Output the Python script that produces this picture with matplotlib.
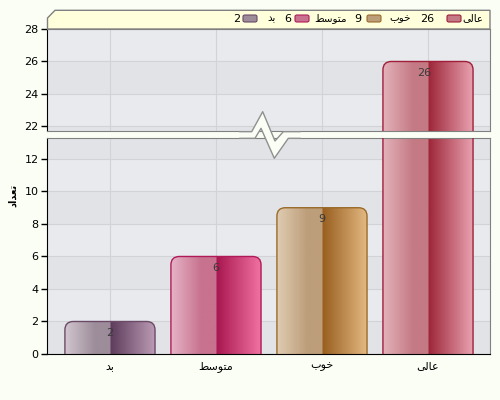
import numpy as np
import matplotlib
matplotlib.use("Agg")
import matplotlib.pyplot as plt
from matplotlib.patches import FancyBboxPatch, Polygon
from matplotlib.lines import Line2D
from matplotlib.colors import to_rgb

# ---- data ----
categories = ["بد", "متوسط", "خوب", "عالی"]
# visual (shaped, left-to-right) forms of the labels for rendering
categories_shaped = ["\uFEAA\uFE91", "\uFEC2\uFEB3\uFEEE\uFE98\uFEE3", "\uFE8F\uFEEE\uFEA7", "\uFBFD\uFEDF\uFE8E\uFECB"]
values = [2, 6, 9, 26]
ylabel_shaped = "\uFEA9\uFE8D\uFEAA\uFECC\uFE97"  # تعداد
top_ticks = [22, 24, 26, 28]
bottom_ticks = [0, 2, 4, 6, 8, 10, 12]

# gradient colours per bar: light-left, mid, dark, light-right, edge
bar_colors = [
    ("#d2c6cf", "#9d8c9a", "#5c3c5a", "#bc9cb6", "#6a4a66"),
    ("#e6b4c6", "#c8728f", "#a8164f", "#f274a3", "#b01a58"),
    ("#e0ccb2", "#bd9e7a", "#985e1e", "#e4ba84", "#9a6a28"),
    ("#e4b2ba", "#c47a84", "#9c2638", "#eaa4b2", "#a01e3a"),
]

BG = "#fbfef4"
W, H = 500, 400
fig = plt.figure(figsize=(5, 4), dpi=100, facecolor=BG)

def fx(x):
    return x / W

def fy(y):
    return 1 - y / H

L, R = 47, 490
ax_top = fig.add_axes([fx(L), fy(131), fx(R - L), (131 - 29) / H])
ax_bot = fig.add_axes([fx(L), fy(354), fx(R - L), (354 - 138) / H])

xlim = (-0.594, 3.585)
top_lim = (21.72, 28.0)
bot_lim = (0.0, 13.29)
width = 0.85


def gradient_row(c):
    l, m, d, r, _ = [np.array(to_rgb(x)) for x in c]
    n = 200
    t = np.linspace(0, 1, n)
    out = np.zeros((n, 3))
    for i, tt in enumerate(t):
        if tt < 0.33:
            f = tt / 0.33
            out[i] = l * (1 - f) + m * f
        elif tt < 0.5:
            out[i] = m
        else:
            f = (tt - 0.5) / 0.5
            out[i] = d * (1 - f) + r * f
    return np.tile(out[None, :, :], (8, 1, 1))


for ax, lim, ticks in [(ax_top, top_lim, top_ticks), (ax_bot, bot_lim, bottom_ticks)]:
    ax.set_facecolor("#e8eaee")
    for b in range(0, 30, 4):
        ax.axhspan(b, b + 2, color="#e2e3e7", zorder=0, lw=0)
    for t in ticks:
        ax.axhline(t, color="#d2d3d7", lw=0.8, zorder=0.5)
    for i in range(len(categories)):
        ax.axvline(i, color="#d2d3d7", lw=0.8, zorder=0.5)
    for i, (v, c) in enumerate(zip(values, bar_colors)):
        x0 = i - width / 2
        patch = FancyBboxPatch((x0, -1.5), width, v + 1.5,
                               boxstyle="round,pad=0,rounding_size=0.08",
                               mutation_aspect=6.5,
                               facecolor="none", edgecolor=c[4], lw=1.0, zorder=3)
        ax.add_patch(patch)
        im = ax.imshow(gradient_row(c), extent=[x0, x0 + width, -1.5, v],
                       aspect="auto", interpolation="bilinear", zorder=2)
        im.set_clip_path(patch)
        if lim[0] <= v - 0.7 <= lim[1]:
            ax.text(i + 0.03, v - 0.7, str(v), ha="right", va="center",
                    fontsize=8, color="#3a3a3a", zorder=4)
    ax.set_xlim(*xlim)
    ax.set_ylim(*lim)
    ax.set_yticks(ticks)
    ax.tick_params(axis="y", labelsize=8, length=4, width=1, color="black", pad=2)
    for s in ["top", "right"]:
        ax.spines[s].set_color("#808080")
    ax.spines["left"].set_color("black")
    ax.spines["bottom"].set_color("black")

ax_top.set_xticks([])
ax_top.spines["bottom"].set_color("#808080")
ax_bot.spines["top"].set_color("#808080")
ax_bot.set_xticks(range(len(categories)))
ax_bot.set_xticklabels(categories_shaped, fontsize=8)
ax_bot.tick_params(axis="x", length=0, pad=5)

fig.text(fx(13), fy(195), ylabel_shaped, rotation=90, fontsize=7,
         fontweight="bold", ha="center", va="center")

# break marker
upper = [(240, 131.7), (251.7, 131.7), (262.7, 111.7), (275, 141), (283.3, 131.7), (300, 131.7)]
lower = [(300, 138.3), (288.3, 138.3), (274.3, 158.3), (261, 128.3), (255, 138.3), (240, 138.3)]
poly = Polygon([(fx(x), fy(y)) for x, y in upper + lower], closed=True,
               transform=fig.transFigure, facecolor=BG, edgecolor="none", zorder=10)
fig.patches.append(poly)
for pts in (upper, lower):
    fig.lines.append(Line2D([fx(x) for x, y in pts], [fy(y) for x, y in pts],
                            transform=fig.transFigure, color="#909090", lw=1.0, zorder=11))

# legend box
leg = Polygon([(fx(x), fy(y)) for x, y in [(47.5, 29), (47.5, 18), (55, 10.3), (490, 10.3), (490, 29)]],
              closed=True, transform=fig.transFigure, facecolor="#ffffdc",
              edgecolor="#808080", lw=1.0, zorder=9)
fig.patches.append(leg)

leg_y = 18.5
# (label right x, swatch left x, value right x) in pixels
item_x = [(483, 447, 434), (411, 367, 361), (347, 295, 291), (276, 243, 240)]
order = [3, 2, 1, 0]
for (lx, sx, vx), idx in zip(item_x, order):
    c = bar_colors[idx]
    fig.text(fx(lx), fy(leg_y), categories_shaped[idx], ha="right", va="center",
             fontsize=7.5, zorder=12)
    sw = FancyBboxPatch((fx(sx), fy(leg_y + 3.5)), fx(14), 7 / H,
                        boxstyle="round,pad=0,rounding_size=0.004",
                        transform=fig.transFigure, facecolor=c[1], edgecolor=c[4],
                        lw=0.8, zorder=12)
    fig.patches.append(sw)
    fig.text(fx(vx), fy(leg_y), str(values[idx]), ha="right", va="center",
             fontsize=8, zorder=12)

fig.savefig("out.png", dpi=100, facecolor=BG)
